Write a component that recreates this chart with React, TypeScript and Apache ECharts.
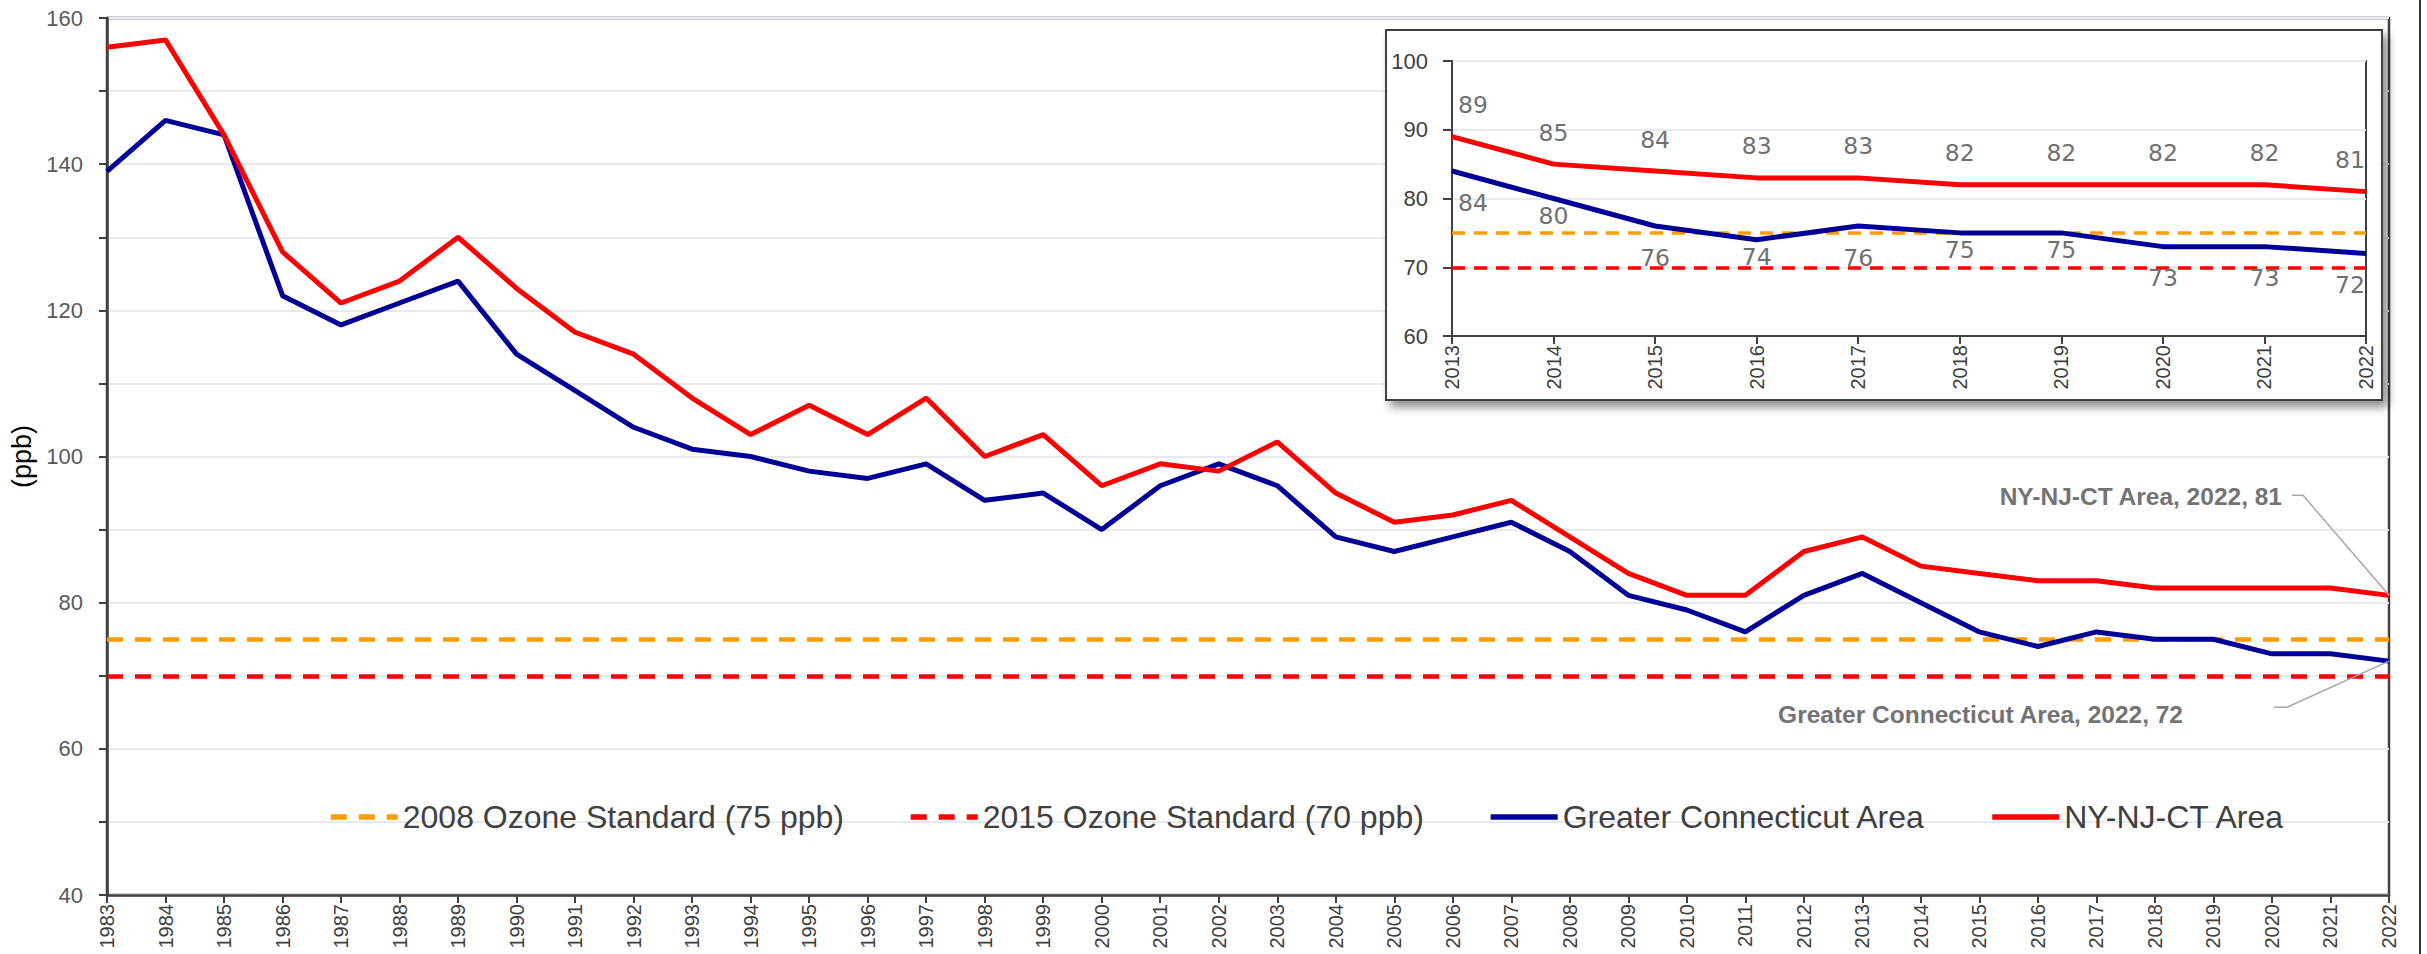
import React, { useEffect, useRef } from "react";
import * as echarts from "echarts";

const YEARS = [
  "1983", "1984", "1985", "1986", "1987", "1988", "1989", "1990", "1991", "1992",
  "1993", "1994", "1995", "1996", "1997", "1998", "1999", "2000", "2001", "2002",
  "2003", "2004", "2005", "2006", "2007", "2008", "2009", "2010", "2011", "2012",
  "2013", "2014", "2015", "2016", "2017", "2018", "2019", "2020", "2021", "2022",
];
const GREATER_CT = [
  139, 146, 144, 122, 118, 121, 124, 114, 109, 104,
  101, 100, 98, 97, 99, 94, 95, 90, 96, 99,
  96, 89, 87, 89, 91, 87, 81, 79, 76, 81,
  84, 80, 76, 74, 76, 75, 75, 73, 73, 72,
];
const NY_NJ_CT = [
  156, 157, 144, 128, 121, 124, 130, 123, 117, 114,
  108, 103, 107, 103, 108, 100, 103, 96, 99, 98,
  102, 95, 91, 92, 94, 89, 84, 81, 81, 87,
  89, 85, 84, 83, 83, 82, 82, 82, 82, 81,
];
const STANDARD_2008 = 75;
const STANDARD_2015 = 70;
const INSET_START_YEAR = "2013";
const MAIN_Y_LABELS = [40, 60, 80, 100, 120, 140, 160];
const NAME_2008 = "2008 Ozone Standard (75 ppb)";
const NAME_2015 = "2015 Ozone Standard (70 ppb)";
const NAME_CT = "Greater Connecticut Area";
const NAME_NY = "NY-NJ-CT Area";

const RED = "#FF0000";
const BLUE = "#000096";
const ORANGE = "#FF9C00";
const AXIS = "#404040";
const GRID = "#E6EAEE";
const SANS = "'Liberation Sans', Arial, sans-serif";

export default function App() {
  const ref = useRef<HTMLDivElement>(null);

  useEffect(() => {
    if (!ref.current) return;
    document.body.style.margin = "0";
    const chart = echarts.init(ref.current, null, { renderer: "svg" });

    const start = YEARS.indexOf(INSET_START_YEAR);
    const insetYears = YEARS.slice(start);
    const insetCT = GREATER_CT.slice(start);
    const insetNY = NY_NJ_CT.slice(start);
    const lastI = insetYears.length - 1;
    const nearBlue = [1, 3, 5, 6];

    const stdSeries = (name: string, color: string, value: number, inset: boolean) => {
      const ls = { color, width: inset ? 3.5 : 4.5, type: inset ? [13, 9] : [16, 12] };
      return {
        name,
        type: "line",
        xAxisIndex: inset ? 1 : 0,
        yAxisIndex: inset ? 1 : 0,
        data: [],
        symbol: "none",
        z: inset ? 13 : 2,
        itemStyle: { color },
        lineStyle: ls,
        markLine: {
          silent: true,
          symbol: ["none", "none"],
          label: { show: false },
          z: inset ? 13 : 2,
          lineStyle: ls,
          data: [{ yAxis: value }],
        },
      };
    };

    const labelBase = {
      show: true,
      fontFamily: "'DejaVu Sans', sans-serif",
      fontSize: 23.5,
      color: "#707070",
    };

    const edgeShift = (params: any) => {
      if (params.dataIndex === 0) return { dx: 21, hideOverlap: false };
      if (params.dataIndex === lastI) return { dx: -16, hideOverlap: false };
      return { hideOverlap: false };
    };

    const xLabel = { interval: 0, rotate: 90, margin: 9, fontSize: 20, fontFamily: SANS, color: AXIS };

    const option: any = {
      animation: false,
      backgroundColor: "#ffffff",
      textStyle: { fontFamily: SANS },
      grid: [
        {
          left: 107, right: 38, top: 18, bottom: 59,
          show: true, borderColor: AXIS, borderWidth: 2.5, backgroundColor: "transparent",
          containLabel: false, outerBoundsMode: "none", z: 0,
        },
        {
          left: 1452, right: 61, top: 61, bottom: 618,
          show: true, borderColor: AXIS, borderWidth: 2, backgroundColor: "#ffffff",
          containLabel: false, outerBoundsMode: "none", z: 11,
        },
      ],
      xAxis: [
        {
          type: "category", gridIndex: 0, data: YEARS, boundaryGap: false,
          axisLine: { show: true, lineStyle: { color: AXIS, width: 2.5 } },
          axisTick: { show: true, length: 8, interval: 0, lineStyle: { color: AXIS, width: 2 } },
          axisLabel: xLabel,
          splitLine: { show: false },
        },
        {
          type: "category", gridIndex: 1, data: insetYears, boundaryGap: false, z: 12,
          axisLine: { show: true, lineStyle: { color: AXIS, width: 2 } },
          axisTick: { show: true, length: 8, interval: 0, lineStyle: { color: AXIS, width: 2 } },
          axisLabel: xLabel,
          splitLine: { show: false },
        },
      ],
      yAxis: [
        {
          type: "value", gridIndex: 0, min: 40, max: 160, interval: 10,
          name: "(ppb)", nameLocation: "middle", nameGap: 65,
          nameTextStyle: { fontSize: 27, color: "#000000", fontFamily: SANS },
          axisLine: { show: true, lineStyle: { color: AXIS, width: 2.5 } },
          axisTick: { show: true, length: 8, lineStyle: { color: AXIS, width: 2 } },
          axisLabel: {
            margin: 24, fontSize: 22, fontFamily: SANS, color: "#595959",
            formatter: (v: number) => (MAIN_Y_LABELS.includes(v) ? String(v) : ""),
          },
          splitLine: { show: true, lineStyle: { color: GRID, width: 2 } },
        },
        {
          type: "value", gridIndex: 1, min: 60, max: 100, interval: 10, z: 12,
          axisLine: { show: true, lineStyle: { color: AXIS, width: 2 } },
          axisTick: { show: true, length: 9, lineStyle: { color: AXIS, width: 2 } },
          axisLabel: { margin: 24, fontSize: 22, fontFamily: SANS, color: AXIS },
          splitLine: { show: true, lineStyle: { color: GRID, width: 2 } },
        },
      ],
      legend: {
        data: [NAME_2008, NAME_2015, NAME_CT, NAME_NY],
        left: 328, top: 801, padding: 0,
        itemWidth: 67, itemHeight: 14, itemGap: 64,
        itemStyle: { opacity: 0 },
        lineStyle: { width: 5.5 },
        textStyle: { fontSize: 32, color: AXIS, fontFamily: SANS },
      },
      series: [
        stdSeries(NAME_2008, ORANGE, STANDARD_2008, false),
        stdSeries(NAME_2015, RED, STANDARD_2015, false),
        {
          name: NAME_CT, type: "line", xAxisIndex: 0, yAxisIndex: 0, data: GREATER_CT,
          symbol: "none", z: 3, itemStyle: { color: BLUE },
          lineStyle: { color: BLUE, width: 5 },
        },
        {
          name: NAME_NY, type: "line", xAxisIndex: 0, yAxisIndex: 0, data: NY_NJ_CT,
          symbol: "none", z: 4, itemStyle: { color: RED },
          lineStyle: { color: RED, width: 5 },
        },
        stdSeries(NAME_2008, ORANGE, STANDARD_2008, true),
        stdSeries(NAME_2015, RED, STANDARD_2015, true),
        {
          name: NAME_CT, type: "line", xAxisIndex: 1, yAxisIndex: 1, z: 14,
          symbol: "circle", symbolSize: 1, showSymbol: true, itemStyle: { color: BLUE },
          lineStyle: { color: BLUE, width: 5 },
          label: { ...labelBase, position: "bottom", distance: 19 },
          labelLayout: edgeShift,
          data: insetCT.map((v, i) => ({
            value: v,
            label: { distance: nearBlue.includes(i) ? 5 : 19 },
          })),
        },
        {
          name: NAME_NY, type: "line", xAxisIndex: 1, yAxisIndex: 1, z: 15,
          symbol: "circle", symbolSize: 1, showSymbol: true, itemStyle: { color: RED },
          lineStyle: { color: RED, width: 5 },
          label: { ...labelBase, position: "top", distance: 19 },
          labelLayout: edgeShift,
          data: insetNY,
        },
      ],
    };

    chart.setOption(option);

    const last = YEARS.length - 1;
    const pNY = chart.convertToPixel({ xAxisIndex: 0, yAxisIndex: 0 }, [YEARS[last], NY_NJ_CT[last]]) as number[];
    const pCT = chart.convertToPixel({ xAxisIndex: 0, yAxisIndex: 0 }, [YEARS[last], GREATER_CT[last]]) as number[];

    const annFont = { fontFamily: SANS, fontSize: 24.5, fontWeight: "bold", fill: "#737373" };

    chart.setOption({
      graphic: [
        {
          type: "rect", id: "insetBox", z: 10,
          shape: { x: 1386, y: 30, width: 996, height: 370 },
          style: {
            fill: "#ffffff", stroke: AXIS, lineWidth: 2,
            shadowBlur: 10, shadowOffsetX: 5, shadowOffsetY: 6, shadowColor: "rgba(0,0,0,0.45)",
          },
        },
        {
          type: "line", id: "edge", z: 20,
          shape: { x1: 2420, y1: 0, x2: 2420, y2: 954 },
          style: { stroke: "#333333", lineWidth: 2 },
        },
        {
          type: "polyline", id: "leadNY", z: 20,
          shape: { points: [[pNY[0] - 97, pNY[1] - 100], [pNY[0] - 86, pNY[1] - 100], [pNY[0], pNY[1]]] },
          style: { stroke: "#A6A6A6", lineWidth: 1.5, fill: null },
        },
        {
          type: "polyline", id: "leadCT", z: 20,
          shape: { points: [[pCT[0] - 115, pCT[1] + 46], [pCT[0] - 102, pCT[1] + 46], [pCT[0], pCT[1]]] },
          style: { stroke: "#A6A6A6", lineWidth: 1.5, fill: null },
        },
        {
          type: "text", id: "annNY", z: 20,
          x: pNY[0] - 107, y: pNY[1] - 99,
          style: { ...annFont, text: `${NAME_NY}, ${YEARS[last]}, ${NY_NJ_CT[last]}`, align: "right", verticalAlign: "middle" },
        },
        {
          type: "text", id: "annCT", z: 20,
          x: pCT[0] - 206, y: pCT[1] + 53,
          style: { ...annFont, text: `${NAME_CT}, ${YEARS[last]}, ${GREATER_CT[last]}`, align: "right", verticalAlign: "middle" },
        },
      ],
    });

    return () => chart.dispose();
  }, []);

  return (
    <div
      ref={ref}
      style={{ position: "fixed", left: 0, top: 0, width: 2427, height: 954, background: "#fff" }}
    />
  );
}
